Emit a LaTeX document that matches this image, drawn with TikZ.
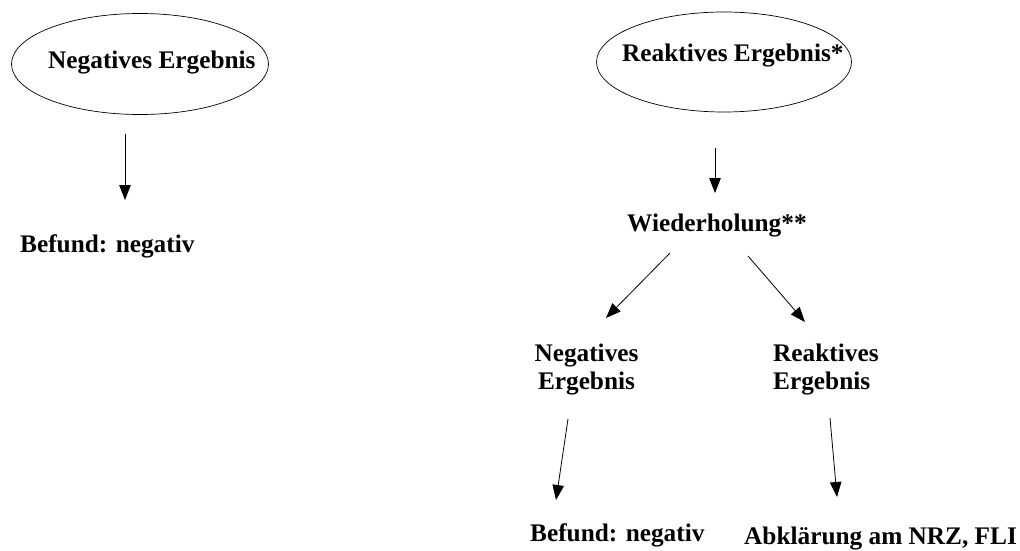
\documentclass[tikz,border=0pt]{standalone}
\usepackage{fontspec}
\setmainfont{Liberation Serif}
\usetikzlibrary{shapes.geometric,arrows.meta}
\begin{document}
\begin{tikzpicture}[x=1pt,y=-1pt,
  lbl/.style={font={\bfseries\fontsize{25.3}{28}\selectfont},inner sep=0pt,text=black},
  oval/.style={draw,ellipse,line width=0.7pt,inner sep=0pt},
  arr/.style={line width=0.8pt,-{Triangle[length=15pt,width=11.5pt]}}]
\useasboundingbox (0,0) rectangle (1020,550);
% ovals
\node[oval,minimum width=257pt,minimum height=101pt] (e1) at (140,64) {};
\node[oval,minimum width=255pt,minimum height=100pt] (e2) at (724,62) {};
% texts
\node[lbl,anchor=base west] (t1) at (48,68) {Negatives Ergebnis};
\node[lbl,anchor=base west] (t2) at (20,252) {Befund: negativ};
\node[lbl,anchor=base west] (t3) at (622,61) {Reaktives Ergebnis*};
\node[lbl,anchor=base west] (t4) at (627,231) {Wiederholung**};
\node[lbl,align=center] (t5) at (586.5,370) {Negatives\\Ergebnis};
\node[lbl,align=left,anchor=west] (t6) at (773,370) {Reaktives\\Ergebnis};
\node[lbl,anchor=base west] (t7) at (530,541) {Befund: negativ};
\node[lbl,anchor=base west] (t8) at (744,544) {Abklärung am NRZ, FLI};
% arrow end points
\coordinate (a1s) at (125,134); \coordinate (a1e) at (125,200);
\coordinate (a2s) at (715,148); \coordinate (a2e) at (715,193);
\coordinate (a3s) at (670,253); \coordinate (a3e) at (606,318);
\coordinate (a4s) at (748,256); \coordinate (a4e) at (805,322);
\coordinate (a5s) at (568,419); \coordinate (a5e) at (556,500);
\coordinate (a6s) at (830,418); \coordinate (a6e) at (837,497);
\draw[arr] (a1s) -- (a1e);
\draw[arr] (a2s) -- (a2e);
\draw[arr] (a3s) -- (a3e);
\draw[arr] (a4s) -- (a4e);
\draw[arr] (a5s) -- (a5e);
\draw[arr] (a6s) -- (a6e);
\end{tikzpicture}
\end{document}
